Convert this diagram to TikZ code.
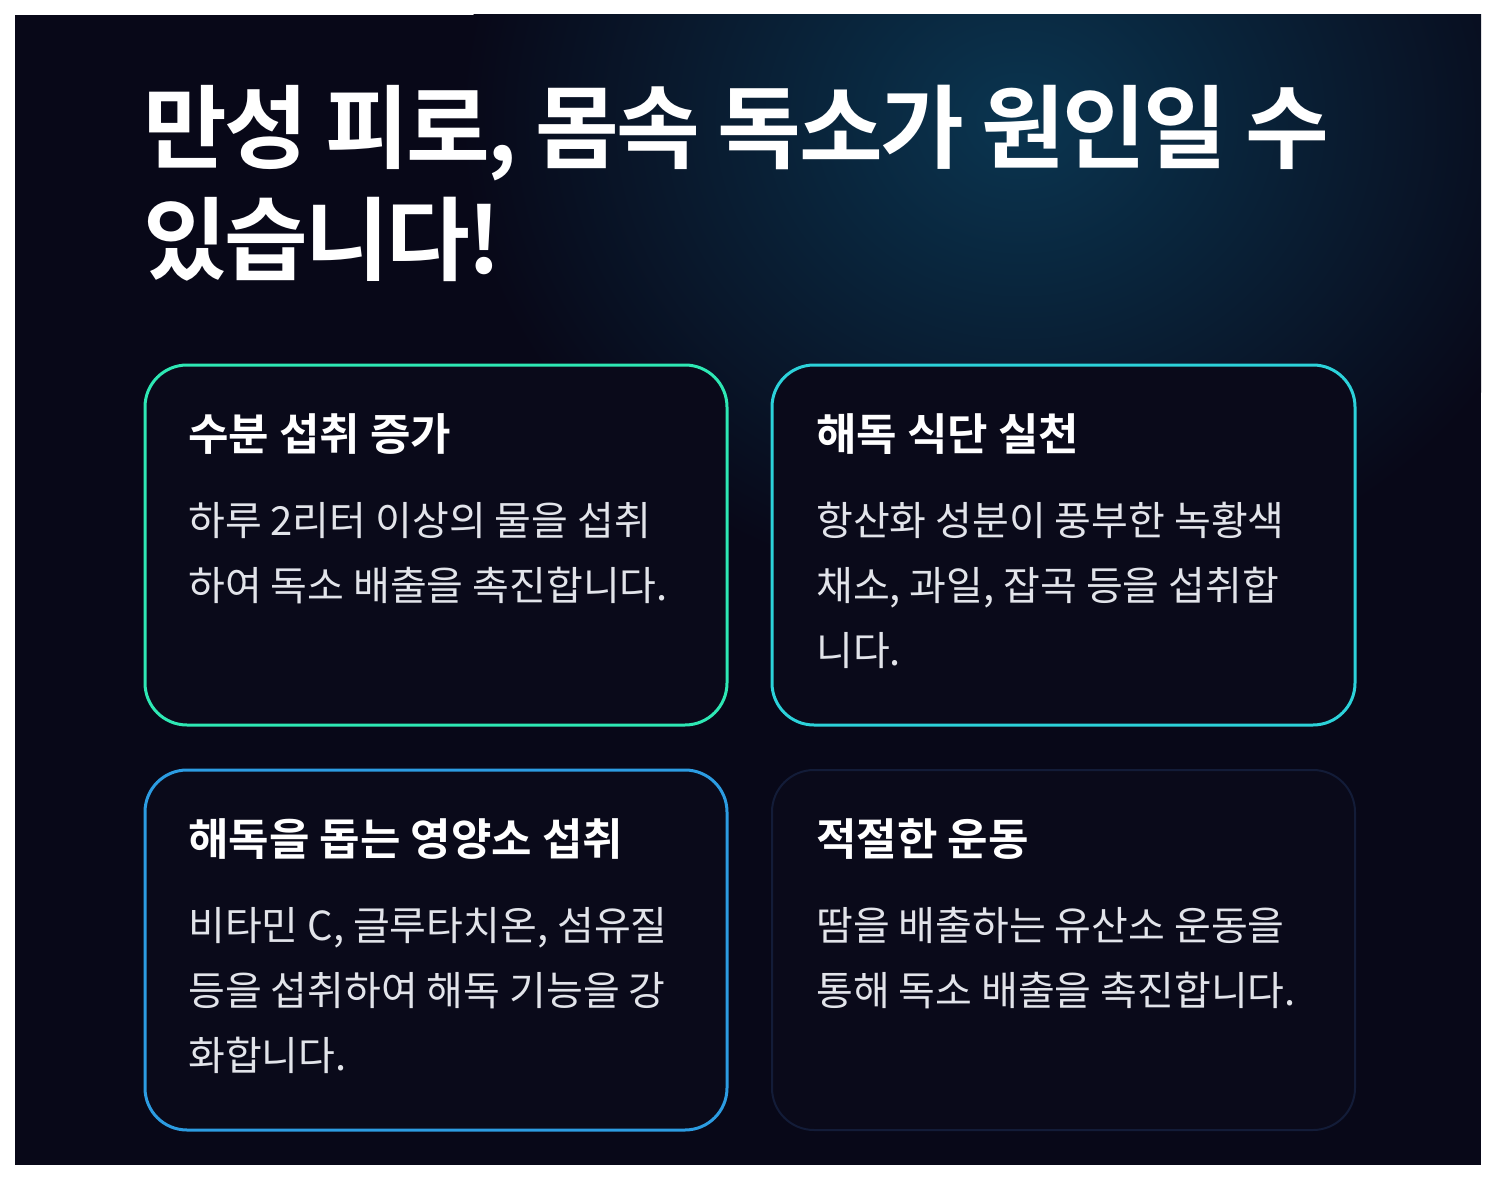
\documentclass[tikz,border=0pt]{standalone}
\usepackage{fontspec}
\setmainfont{Noto Sans CJK KR}
\newfontfamily\krbold{Noto Sans CJK KR Bold}
\definecolor{panelbg}{HTML}{080818}
\definecolor{cardbg}{HTML}{0A0A1A}
\definecolor{glow}{HTML}{0A3550}
\definecolor{edgeA}{HTML}{2EE8B4}
\definecolor{edgeB}{HTML}{2CD2DA}
\definecolor{edgeC}{HTML}{2C9CE2}
\definecolor{edgeD}{HTML}{131C38}
\definecolor{bodytext}{HTML}{E2E4EA}
\begin{document}
\begin{tikzpicture}[x=1pt,y=-1pt,
  card/.style={line width=3pt,rounded corners=42pt,fill=cardbg},
  cardtitle/.style={anchor=base west,inner sep=0,text=white,font=\krbold\fontsize{44}{44}\selectfont},
  cardbody/.style={anchor=base west,inner sep=0,text=bodytext,align=left,font=\fontsize{40}{65}\selectfont}]

  \useasboundingbox (0,0) rectangle (1496,1180);
  \fill[white] (0,0) rectangle (1496,1180);
  \begin{scope}
    \clip (15,15) rectangle (1481,1165);
    \fill[panelbg] (15,15) rectangle (1481,1165);
    \shade[inner color=glow,outer color=panelbg] (1020,120) ellipse (560 and 480);
  \end{scope}

  % title (base anchor sits on the last line)
  \node[anchor=base west,inner sep=0,text=white,align=left,
    font=\krbold\fontsize{91}{112}\selectfont\addfontfeature{LetterSpace=-3}] (title) at (143,273)
    {만성 피로, 몸속 독소가 원인일 수\\있습니다!};

  % cards
  \draw[card,draw=edgeA] (145,365) rectangle (727,725);
  \draw[card,draw=edgeB] (772,365) rectangle (1355,725);
  \draw[card,draw=edgeC] (145,770) rectangle (727,1130);
  \draw[card,draw=edgeD,line width=2pt] (772,770) rectangle (1355,1130);

  \node[cardtitle] (t1) at (188,450) {수분 섭취 증가};
  \node[cardbody] (b1) at (188,600) {하루 2리터 이상의 물을 섭취\\하여 독소 배출을 촉진합니다.};

  \node[cardtitle] (t2) at (816,450) {해독 식단 실천};
  \node[cardbody] (b2) at (816,665) {항산화 성분이 풍부한 녹황색\\채소, 과일, 잡곡 등을 섭취합\\니다.};

  \node[cardtitle] (t3) at (188,855) {해독을 돕는 영양소 섭취};
  \node[cardbody] (b3) at (188,1070) {비타민 C, 글루타치온, 섬유질\\등을 섭취하여 해독 기능을 강\\화합니다.};

  \node[cardtitle] (t4) at (816,855) {적절한 운동};
  \node[cardbody] (b4) at (816,1005) {땀을 배출하는 유산소 운동을\\통해 독소 배출을 촉진합니다.};
\end{tikzpicture}
\end{document}
